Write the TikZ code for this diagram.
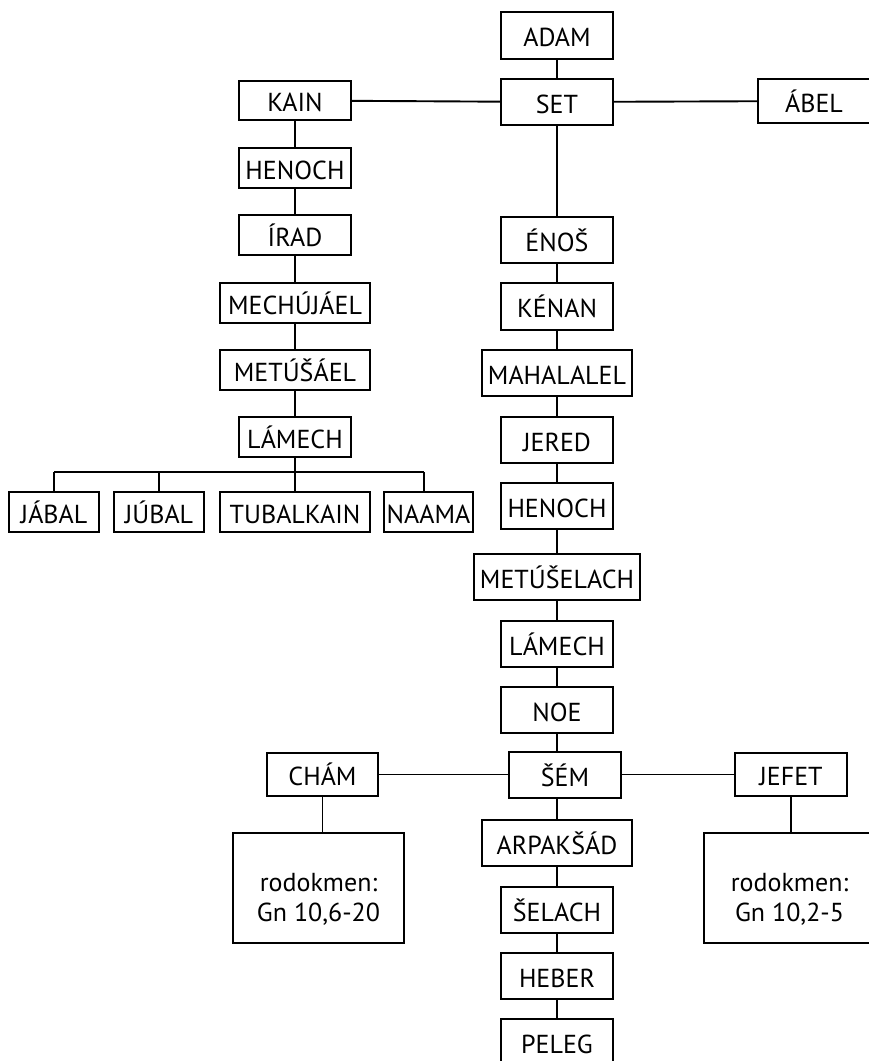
\documentclass[tikz,border=0pt]{standalone}
\usepackage{fontspec}
\setmainfont{PT Sans}
\begin{document}
\begin{tikzpicture}[x=1pt,y=-1pt,
  box/.style={draw, line width=1.4pt, inner sep=0pt, font=\fontsize{26}{31}\selectfont,
    text height=22pt, text depth=0pt, minimum width=112, minimum height=46},
  bw/.style={minimum width=#1},
  bh/.style={minimum height=#1},
  note/.style={draw, line width=1.4pt, inner sep=0pt, font=\fontsize{26}{30}\selectfont,
    align=center, minimum width=171, minimum height=110},
  link/.style={line width=1.9pt}]
\useasboundingbox (0,0) rectangle (869,1061);
\clip (0,0) rectangle (869,1061);
% central line
\node[box, bh=47] (adam) at (557,35.5) {ADAM};
\node[box] (set) at (557,102) {SET};
\node[box, bh=44] (abel) at (814,101) {ÁBEL};
\node[box, bh=39] (kain) at (295,100.5) {KAIN};
% Cain line
\node[box, bh=40] (henochL) at (295,168) {HENOCH};
\node[box, bh=40] (irad) at (295,235) {ÍRAD};
\node[box, bw=150, bh=40] (mechujael) at (295,303) {MECHÚJÁEL};
\node[box, bw=150, bh=40] (metusael) at (295,370) {METÚŠÁEL};
\node[box, bh=40] (lamechL) at (295,437) {LÁMECH};
\node[box, bw=90, bh=40] (jabal) at (54,512) {JÁBAL};
\node[box, bw=90, bh=40] (jubal) at (159,512) {JÚBAL};
\node[box, bw=150, bh=40] (tubalkain) at (295,512) {TUBALKAIN};
\node[box, bw=89, bh=40] (naama) at (428.5,512) {NAAMA};
% Seth line
\node[box] (enos) at (557,240) {ÉNOŠ};
\node[box, bh=47] (kenan) at (557,306.5) {KÉNAN};
\node[box, bw=150] (mahalalel) at (557,373) {MAHALALEL};
\node[box] (jered) at (557,440) {JERED};
\node[box] (henochR) at (557,506) {HENOCH};
\node[box, bw=166] (metuselach) at (557,577) {METÚŠELACH};
\node[box] (lamechR) at (557,644) {LÁMECH};
\node[box] (noe) at (557,710) {NOE};
\node[box] (sem) at (565,775) {ŠÉM};
\node[box, bw=111, bh=43] (cham) at (322.5,774.5) {CHÁM};
\node[box, bh=43] (jefet) at (791,774.5) {JEFET};
\node[note] (rodC) at (318.5,888) {\rule{0pt}{40pt}rodokmen:\\Gn 10,6-20};
\node[note] (rodJ) at (789.5,888) {\rule{0pt}{40pt}rodokmen:\\Gn 10,2-5};
\node[box, bw=150] (arpaksad) at (557,843) {ARPAKŠÁD};
\node[box] (selach) at (557,910) {ŠELACH};
\node[box] (heber) at (557,976) {HEBER};
\node[box] (peleg) at (557,1042) {PELEG};
% connectors
\draw[link] (adam) -- (set);
\draw[link] (kain) -- (set);
\draw[link] (set) -- (abel);
\draw[link] (set) -- (enos);
\draw[link] (enos) -- (kenan);
\draw[link] (kenan) -- (mahalalel);
\draw[link] (mahalalel) -- (jered);
\draw[link] (jered) -- (henochR);
\draw[link] (henochR) -- (metuselach);
\draw[link] (metuselach) -- (lamechR);
\draw[link] (lamechR) -- (noe);
\draw[link] (noe.south) -- (noe.south |- sem.north);
\draw[link] (arpaksad.north |- sem.south) -- (arpaksad.north);
\draw[link] (cham.east) -- (cham.east -| sem.west);
\draw[link] (sem.east |- jefet.west) -- (jefet.west);
\draw[link] (cham) -- (rodC.north -| cham.south);
\draw[link] (jefet) -- (rodJ.north -| jefet.south);
\draw[link] (arpaksad) -- (selach);
\draw[link] (selach) -- (heber);
\draw[link] (heber) -- (peleg);
\draw[link] (kain) -- (henochL);
\draw[link] (henochL) -- (irad);
\draw[link] (irad) -- (mechujael);
\draw[link] (mechujael) -- (metusael);
\draw[link] (metusael) -- (lamechL);
\coordinate (bus) at (295,472);
\draw[link] (lamechL.south) -- (bus);
\draw[link] (jabal.north |- bus) -- ([xshift=-4.5pt]naama.north |- bus);
\draw[link] (jabal.north |- bus) -- (jabal.north);
\draw[link] (jubal.north |- bus) -- (jubal.north);
\draw[link] (bus) -- (tubalkain.north);
\draw[link] ([xshift=-4.5pt]naama.north |- bus) -- ([xshift=-4.5pt]naama.north);
\end{tikzpicture}
\end{document}
